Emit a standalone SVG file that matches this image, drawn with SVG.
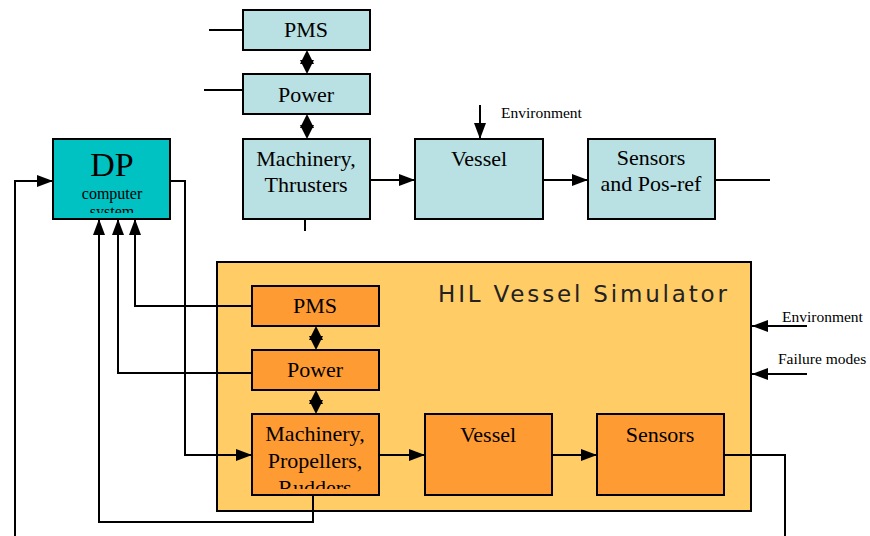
<svg xmlns="http://www.w3.org/2000/svg" width="870" height="536" viewBox="0 0 870 536">
<style>
.box{stroke:#000;stroke-width:2}
.lb{fill:#B9E1E3}
.or{fill:#FF9B33}
.t{font-family:"Liberation Serif",serif;font-size:22px;fill:#000;text-anchor:middle}
.s{font-family:"Liberation Serif",serif;font-size:15.5px;fill:#000}
.c{fill:none;stroke:#000;stroke-width:2}
</style>
<defs>
<marker id="ah" markerWidth="16" markerHeight="12" refX="16" refY="6" orient="auto" markerUnits="userSpaceOnUse">
<path d="M0,0 L16,6 L0,12 Z" fill="#000"/>
</marker>
<clipPath id="dpclip"><rect x="54" y="140" width="115" height="73"/></clipPath>
<clipPath id="mclip"><rect x="253" y="415" width="125" height="74"/></clipPath>
</defs>
<rect width="870" height="536" fill="#fff"/>

<g id="hil">
<rect x="217" y="262" width="534" height="249" fill="#FFCC66" stroke="#000" stroke-width="2"/>
<text x="438" y="302" font-family="DejaVu Sans, sans-serif" font-size="23" fill="#222" textLength="289" lengthAdjust="spacing">HIL Vessel Simulator</text>
</g>

<g id="connectors">
<path class="c" d="M209,30 H243"/>
<path class="c" d="M204,90 H243"/>
<path class="c" d="M305,219 V231"/>
<path class="c" d="M370,180 H415" marker-end="url(#ah)"/>
<path class="c" d="M543,180 H588" marker-end="url(#ah)"/>
<path class="c" d="M715,180 H770"/>
<path class="c" d="M480,105 V139" marker-end="url(#ah)"/>
<path d="M307,50 L314,64 L300,64 Z" fill="#000"/><path d="M307,74 L314,60 L300,60 Z" fill="#000"/>
<path d="M307,114 L314,128 L300,128 Z" fill="#000"/><path d="M307,139 L314,125 L300,125 Z" fill="#000"/>
<path d="M316,326 L323,340 L309,340 Z" fill="#000"/><path d="M316,350 L323,336 L309,336 Z" fill="#000"/>
<path d="M316,390 L323,404 L309,404 Z" fill="#000"/><path d="M316,414 L323,400 L309,400 Z" fill="#000"/>
<path class="c" d="M15,536 V181 H53" marker-end="url(#ah)"/>
<path class="c" d="M170,181 H185 V455 H252" marker-end="url(#ah)"/>
<path class="c" d="M252,306 H135 V219" marker-end="url(#ah)"/>
<path class="c" d="M252,373 H118 V219" marker-end="url(#ah)"/>
<path class="c" d="M313,495 V522 H99 V219" marker-end="url(#ah)"/>
<path class="c" d="M379,455 H425" marker-end="url(#ah)"/>
<path class="c" d="M552,455 H597" marker-end="url(#ah)"/>
<path class="c" d="M724,455 H785 V536"/>
<path class="c" d="M807,326 H752" marker-end="url(#ah)"/>
<path class="c" d="M807,374 H752" marker-end="url(#ah)"/>
</g>

<g id="dp">
<rect class="box" x="53" y="139" width="117" height="80" fill="#00C2C2"/>
<g clip-path="url(#dpclip)">
<text x="112" y="176" font-family="Liberation Serif, serif" font-size="34" text-anchor="middle">DP</text>
<text x="112" y="199" font-family="Liberation Serif, serif" font-size="16" text-anchor="middle">computer</text>
<text x="112" y="217" font-family="Liberation Serif, serif" font-size="16" text-anchor="middle">system</text>
</g>
</g>

<g id="pms-top"><rect class="box lb" x="243" y="10" width="127" height="40"/><text class="t" x="306" y="37">PMS</text></g>
<g id="power-top"><rect class="box lb" x="243" y="74" width="127" height="40"/><text class="t" x="306" y="102">Power</text></g>
<g id="machinery-top"><rect class="box lb" x="243" y="139" width="127" height="80"/><text class="t" x="306" y="166">Machinery,</text><text class="t" x="306" y="192">Thrusters</text></g>
<g id="vessel-top"><rect class="box lb" x="415" y="139" width="128" height="80"/><text class="t" x="479" y="166">Vessel</text></g>
<g id="sensors-top"><rect class="box lb" x="588" y="139" width="127" height="80"/><text class="t" x="651" y="165">Sensors</text><text class="t" x="651" y="191">and Pos-ref</text></g>
<g id="env-top"><text class="s" x="501" y="118">Environment</text></g>

<g id="pms-sim"><rect class="box or" x="252" y="286" width="127" height="40"/><text class="t" x="315" y="313">PMS</text></g>
<g id="power-sim"><rect class="box or" x="252" y="350" width="127" height="40"/><text class="t" x="315" y="377">Power</text></g>
<g id="machinery-sim"><rect class="box or" x="252" y="414" width="127" height="81"/>
<g clip-path="url(#mclip)"><text class="t" x="315" y="441">Machinery,</text><text class="t" x="315" y="468">Propellers,</text><text class="t" x="315" y="495">Rudders</text></g></g>
<g id="vessel-sim"><rect class="box or" x="425" y="414" width="127" height="81"/><text class="t" x="488" y="442">Vessel</text></g>
<g id="sensors-sim"><rect class="box or" x="597" y="414" width="127" height="81"/><text class="t" x="660" y="442">Sensors</text></g>
<g id="env-sim"><text class="s" x="782" y="322">Environment</text></g>
<g id="failure"><text class="s" x="778" y="364">Failure modes</text></g>
</svg>
